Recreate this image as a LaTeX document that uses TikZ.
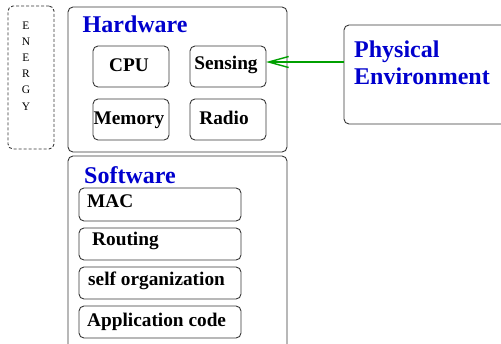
\documentclass[tikz,border=0pt]{standalone}
\usepackage{fontspec}
\setmainfont{Liberation Serif}
\usetikzlibrary{arrows.meta}
\definecolor{titleblue}{RGB}{0,0,205}
\definecolor{arrowgreen}{RGB}{0,160,0}
\definecolor{edgegray}{RGB}{55,55,55}
\begin{document}
\begin{tikzpicture}[x=1bp,y=-1bp,
  box/.style={draw=edgegray, line width=0.9bp, rounded corners=5bp, inner sep=0pt, outer sep=0pt, anchor=north west},
  title/.style={font=\bfseries\fontsize{24bp}{26bp}\selectfont, text=titleblue, inner sep=0pt, anchor=base west},
  lbl/.style={font=\bfseries\fontsize{19.3bp}{21bp}\selectfont, inner sep=0pt},
  energy/.style={font=\fontsize{11.5bp}{16.3bp}\selectfont, inner sep=0pt, anchor=base}]
\useasboundingbox (0,0) rectangle (501,343);
\clip (0,0) rectangle (501,343);

% energy
\node[box, dashed, dash pattern=on 3bp off 2bp, minimum width=46bp, minimum height=143bp] (energybox) at (8,6) {};
\node[energy] (e1) at (26,29.3) {E};
\node[energy] (e2) at (26,45.8) {N};
\node[energy] (e3) at (26,61.7) {E};
\node[energy] (e4) at (26,77.7) {R};
\node[energy] (e5) at (26,93.9) {G};
\node[energy] (e6) at (26,110.3) {Y};

% hardware
\node[box, minimum width=219bp, minimum height=145bp] (hw) at (68,7) {};
\node[title] (hwtitle) at (82.5,32.3) {Hardware};
\node[box, minimum width=76bp, minimum height=41bp] (cpu) at (93,46) {};
\node[box, minimum width=76bp, minimum height=41bp] (sensing) at (190,46) {};
\node[box, minimum width=76bp, minimum height=41bp] (memory) at (93,99) {};
\node[box, minimum width=76bp, minimum height=41bp] (radio) at (190,99) {};
\node[lbl, anchor=base] (cputxt) at (129,71) {CPU};
\node[lbl, anchor=base] (sensingtxt) at (226,69.3) {Sensing};
\node[lbl, anchor=base] (memorytxt) at (129,124) {Memory};
\node[lbl, anchor=base] (radiotxt) at (224,124) {Radio};

% software
\node[box, minimum width=219bp, minimum height=200bp] (sw) at (68,156) {};
\node[title] (swtitle) at (84,183) {Software};
\node[box, minimum width=162bp, minimum height=33bp] (mac) at (79,188) {};
\node[box, minimum width=162bp, minimum height=32bp] (routing) at (79,228) {};
\node[box, minimum width=162bp, minimum height=32bp] (selforg) at (79,267) {};
\node[box, minimum width=162bp, minimum height=32bp] (appcode) at (79,306) {};
\node[lbl, anchor=base west] (mactxt) at (87,207) {MAC};
\node[lbl, anchor=base west] (routingtxt) at (92,245) {Routing};
\node[lbl, anchor=base west] (selforgtxt) at (88,285) {self organization};
\node[lbl, anchor=base west] (appcodetxt) at (87,326) {Application code};

% physical environment
\node[box, minimum width=165bp, minimum height=99bp] (phys) at (344,25) {};
\node[title] (phys1) at (354,57.7) {Physical};
\node[title] (phys2) at (354,84) {Environment};

\coordinate (arrstart) at ([yshift=12.5bp]phys.west);
\draw[arrowgreen, line width=1.4bp, -{Straight Barb[length=20bp,width=11bp]}] (arrstart) -- (arrstart -| sensing.east);
\end{tikzpicture}
\end{document}
